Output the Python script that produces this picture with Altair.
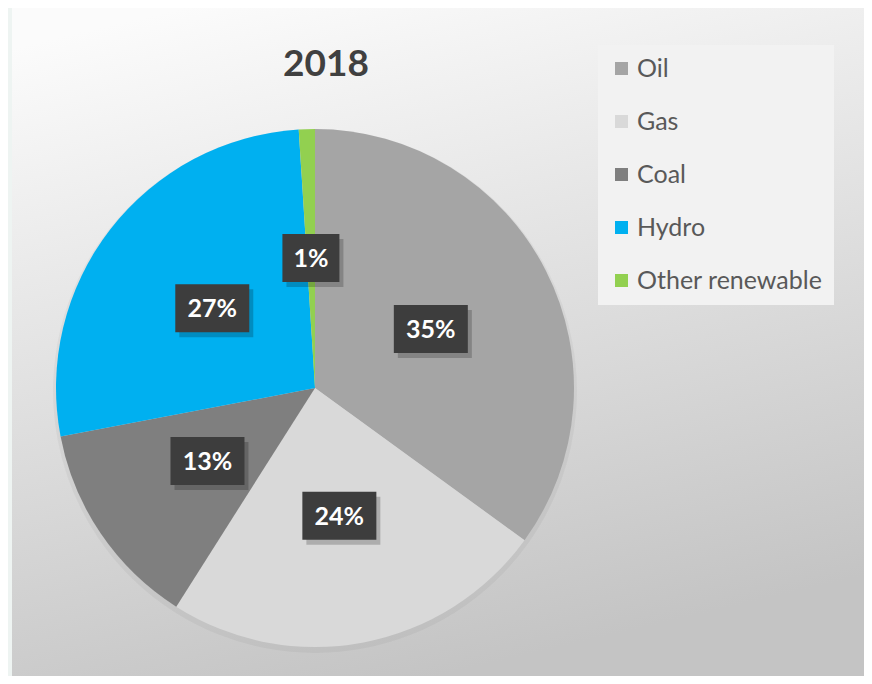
import altair as alt
import pandas as pd

title_text = ["2018"]
categories = ["Oil", "Gas", "Coal", "Hydro", "Other renewable"]
values = [35, 24, 13, 27, 1]
labels = ["35%", "24%", "13%", "27%", "1%"]
colors = ["#a5a5a5", "#d9d9d9", "#7f7f7f", "#00b0f0", "#92d050"]

df = pd.DataFrame({"category": categories, "value": values, "label": labels,
                   "order": list(range(len(categories)))})

W, H = 856, 668
CX, CY, R, LR = 307, 380, 259, 130

color_scale = alt.Scale(domain=categories, range=colors)

bg = alt.Chart(pd.DataFrame({"a": [0]})).mark_rect(
    color=alt.LinearGradient(
        gradient="linear", x1=0.2, y1=0, x2=0.5, y2=1,
        stops=[alt.GradientStop(offset=0, color="#fbfbfb"),
               alt.GradientStop(offset=1, color="#c4c4c4")])
).encode(x=alt.value(4), x2=alt.value(W), y=alt.value(0), y2=alt.value(H))

title = alt.Chart(pd.DataFrame({"t": title_text})).mark_text(
    font="Lato", fontSize=37, fontWeight="bold", color="#404040",
    align="center", baseline="middle"
).encode(x=alt.value(318), y=alt.value(57), text="t:N")

base = alt.Chart(df)

shadow = base.mark_arc(radius=R + 3, color="#000000", opacity=0.04, stroke=None).encode(
    theta=alt.Theta("value:Q", stack=True),
    order=alt.Order("order:Q"),
    x=alt.value(CX), y=alt.value(CY + 3),
)

pie = base.mark_arc(radius=R, stroke=None).encode(
    theta=alt.Theta("value:Q", stack=True),
    color=alt.Color("category:N", scale=color_scale, sort=categories,
                    legend=alt.Legend(title=None, orient="none", legendX=590, legendY=37,
                                      fillColor="#f2f2f2", padding=11,
                                      symbolType="square", symbolSize=170,
                                      symbolStrokeWidth=0,
                                      labelFont="Lato", labelFontSize=25,
                                      labelColor="#595959", rowPadding=27,
                                      labelOffset=3, labelLimit=400)),
    order=alt.Order("order:Q"),
    x=alt.value(CX), y=alt.value(CY),
)

pos = base.transform_window(
    cum="sum(value)", sort=[alt.SortField("order")], frame=[None, 0]
).transform_joinaggregate(
    total="sum(value)"
).transform_calculate(
    ang="(datum.cum - datum.value / 2) / datum.total * 2 * PI",
    px=f"{CX} + {LR} * sin(datum.ang)",
    py=f"{CY} - {LR} * cos(datum.ang)",
    hw="(23 + 17 * length(datum.label)) / 2",
    x1="datum.px - datum.hw", x2="datum.px + datum.hw",
    y1="datum.py - 24", y2="datum.py + 24",
    sx1="datum.x1 + 4", sx2="datum.x2 + 4", sy1="datum.y1 + 5", sy2="datum.y2 + 5",
)

box_shadow = pos.mark_rect(color="#000000", opacity=0.2).encode(
    x=alt.X("sx1:Q", scale=None), x2="sx2:Q",
    y=alt.Y("sy1:Q", scale=None), y2="sy2:Q",
)

boxes = pos.mark_rect(color="#3d3d3d").encode(
    x=alt.X("x1:Q", scale=None), x2="x2:Q",
    y=alt.Y("y1:Q", scale=None), y2="y2:Q",
)

texts = pos.mark_text(font="Lato", fontWeight="bold", fontSize=25, color="#ffffff",
                      baseline="middle", align="center", dy=1).encode(
    x=alt.X("px:Q", scale=None), y=alt.Y("py:Q", scale=None), text="label:N",
)

chart = alt.layer(bg, title, shadow, pie, box_shadow, boxes, texts).properties(
    width=W, height=H,
    autosize=alt.AutoSizeParams(type="none"),
    padding=0,
    background="#eef4f2",
).configure_view(stroke=None)

chart.save("out.html", embed_options={"renderer": "svg", "actions": False})
